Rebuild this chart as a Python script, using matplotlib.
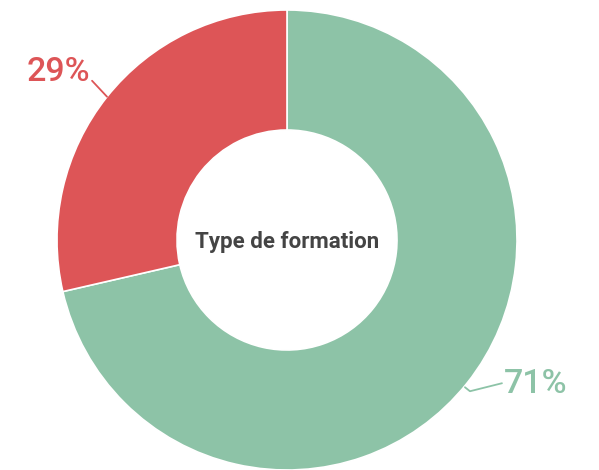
import numpy as np
import matplotlib.pyplot as plt

# Data
categories = ['Autre', 'Formation']
values = [71.4, 28.6]
labels = ['71%', '29%']
colors = ['#8dc3a7', '#dd5557']
title = 'Type de formation'

plt.rcParams['font.family'] = ['Roboto', 'DejaVu Sans']

fig = plt.figure(figsize=(5.99, 4.70), dpi=100)
ax = fig.add_axes([0, 0, 1, 1])
ax.set_xlim(0, 599)
ax.set_ylim(0, 470)
ax.set_aspect('equal')
ax.axis('off')

cx, cy, r = 287, 230, 230
wedges, _ = ax.pie(values, colors=colors, center=(cx, cy), radius=r,
                   startangle=90, counterclock=False,
                   wedgeprops=dict(width=120, edgecolor='white', linewidth=1.2))
ax.set_xlim(0, 599)
ax.set_ylim(0, 470)

# Leader lines + labels
for w, lab, col in zip(wedges, labels, colors):
    mid = np.deg2rad((w.theta1 + w.theta2) / 2)
    x0, y0 = cx + r * np.cos(mid), cy + r * np.sin(mid)
    if np.cos(mid) > 0:
        xs = [x0 - 2, x0 + 3, x0 + 35]
        ys = [y0 - 4, y0 - 8, y0 + 0]
        ax.plot(xs, ys, color=col, lw=1.3, solid_capstyle='round')
        ax.text(x0 + 37, y0 - 1, lab, color=col, fontsize=24.5,
                fontweight='medium', ha='left', va='center')
    else:
        xs = [x0, x0 - 15]
        ys = [y0, y0 + 16]
        ax.plot(xs, ys, color=col, lw=1.3, solid_capstyle='round')
        ax.text(x0 - 17, y0 + 25, lab, color=col, fontsize=24.5,
                fontweight='medium', ha='right', va='center')

ax.text(cx, cy - 2, title, ha='center', va='center', fontsize=16,
        fontweight='bold', color='#444444')

fig.savefig('out.png', dpi=100)
